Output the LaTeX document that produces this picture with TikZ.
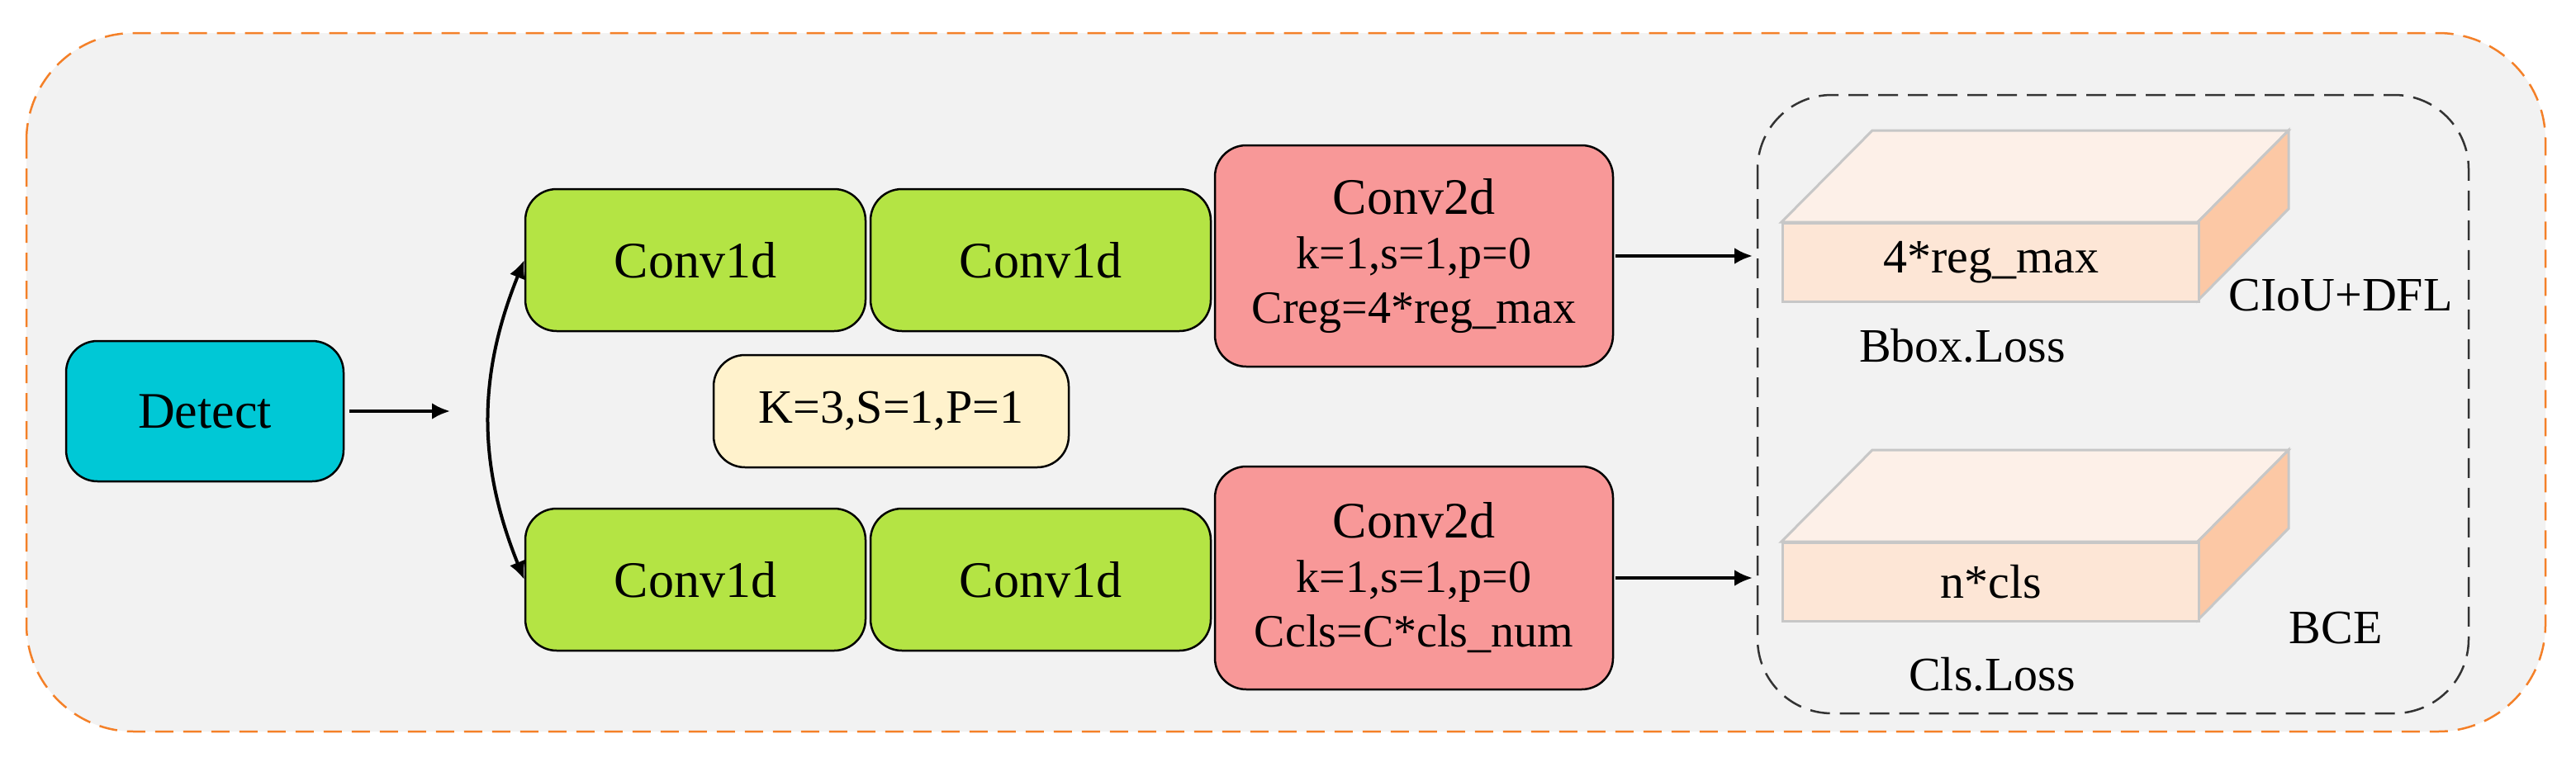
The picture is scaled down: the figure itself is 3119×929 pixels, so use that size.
\documentclass[tikz,border=0pt]{standalone}
\usepackage{fontspec}
\setmainfont{Liberation Serif}
\usetikzlibrary{arrows.meta}
\definecolor{cDet}{RGB}{0,200,214}
\definecolor{cGreen}{RGB}{180,228,68}
\definecolor{cRed}{RGB}{248,152,152}
\definecolor{cK}{RGB}{255,242,204}
\definecolor{cTop}{RGB}{253,240,232}
\definecolor{cSide}{RGB}{252,200,165}
\definecolor{cFront}{RGB}{253,230,214}
\definecolor{cOr}{RGB}{244,128,40}
\definecolor{cBg}{RGB}{242,242,242}
\begin{document}
\begin{tikzpicture}[x=1pt,y=-1pt,
 box/.style={draw=black,line width=2.5pt,rounded corners=38pt,inner sep=0pt,align=center,font=\fontsize{62}{70}\selectfont},
 arr/.style={line width=4pt,-{Latex[length=22pt,width=20pt]}},
 lbl/.style={font=\fontsize{58}{66}\selectfont}]
\useasboundingbox (0,0) rectangle (3119,929);
\draw[draw=cOr,line width=2.5pt,fill=cBg,rounded corners=130pt,dash pattern=on 22pt off 12pt] (32,40) rectangle (3082,886);
\draw[draw=black!80,line width=2.5pt,rounded corners=90pt,dash pattern=on 24pt off 12pt] (2128,115) rectangle (2989,864);
\node[box,fill=cDet,minimum width=336pt,minimum height=170pt] (det) at (248,498) {Detect};
\coordinate (da) at (545,498);
\draw[arr] (det.east) ++(6,0) -- (da);
\foreach \n/\y in {t/315,b/702}{
 \node[box,fill=cGreen,minimum width=412pt,minimum height=172pt] (a\n) at (842,\y) {Conv1d};
 \node[box,fill=cGreen,minimum width=412pt,minimum height=172pt] (c\n) at (1260,\y) {Conv1d};
}
\node[box,fill=cRed,minimum width=482pt,minimum height=268pt] (rt) at (1712,310) {Conv2d\\[-4pt]{\fontsize{56}{64}\selectfont k=1,s=1,p=0}\\[-4pt]{\fontsize{56}{64}\selectfont Creg=4*reg\_max}};
\node[box,fill=cRed,minimum width=482pt,minimum height=270pt] (rb) at (1712,700) {Conv2d\\[-4pt]{\fontsize{56}{64}\selectfont k=1,s=1,p=0}\\[-4pt]{\fontsize{56}{64}\selectfont Ccls=C*cls\_num}};
\node[box,fill=cK,minimum width=430pt,minimum height=136pt,font=\fontsize{58}{66}\selectfont] (k) at (1079,498) {K=3,S=1,P=1};
\draw[line width=4pt,{Latex[length=22pt,width=20pt]}-{Latex[length=22pt,width=20pt]}] (at.west) to[bend right=22] (ab.west);
\coordinate (e1) at (2122,310);
\coordinate (e2) at (2122,700);
\draw[arr] (rt.east) ++(2,0) -- (e1);
\draw[arr] (rb.east) ++(2,0) -- (e2);
\foreach \yt/\nm/\lab in {269/q1/{4*reg\_max},656/q2/{n*cls}}{
 \filldraw[fill=cTop,draw=black!22,line width=3pt] (2157,\yt) -- (2267,\yt-111) -- (2771,\yt-111) -- (2661,\yt) -- cycle;
 \filldraw[fill=cSide,draw=black!22,line width=3pt] (2661,\yt) -- (2771,\yt-111) -- (2771,\yt-16) -- (2661,\yt+95) -- cycle;
 \node[draw=black!22,line width=3pt,fill=cFront,minimum width=504pt,minimum height=95pt,anchor=north west,inner sep=0pt,lbl] (\nm) at (2157,\yt) {\lab};
}
\node[lbl] (l1) at (2834,358) {CIoU+DFL};
\node[lbl] (l2) at (2376,419) {Bbox.Loss};
\node[lbl] (l3) at (2828,761) {BCE};
\node[lbl] (l4) at (2412,817) {Cls.Loss};
\end{tikzpicture}
\end{document}
